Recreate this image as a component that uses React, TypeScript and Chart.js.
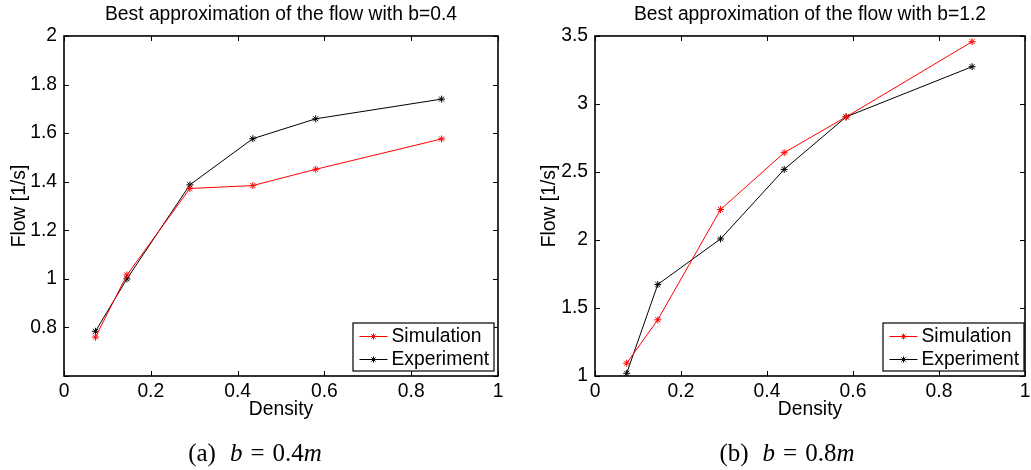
import React, { useEffect, useRef } from 'react';
import { Chart, registerables } from 'chart.js';

Chart.register(...registerables);

// ---- Data ----
const densityA = [0.0725, 0.145, 0.29, 0.435, 0.58, 0.87];
const simulationA = [0.76, 1.016, 1.372, 1.384, 1.451, 1.576];
const experimentA = [0.784, 1.0, 1.387, 1.577, 1.659, 1.74];

const densityB = [0.0737, 0.146, 0.292, 0.44, 0.584, 0.877];
const simulationB = [1.094, 1.413, 2.224, 2.642, 2.905, 3.458];
const experimentB = [1.02, 1.673, 2.008, 2.519, 2.905, 3.274];

const seriesNames = ['Simulation', 'Experiment'];
const xTicks = [0, 0.2, 0.4, 0.6, 0.8, 1];
const yTicksA = [0.6, 0.8, 1, 1.2, 1.4, 1.6, 1.8, 2];
const yTicksB = [1, 1.5, 2, 2.5, 3, 3.5];

const titleA = 'Best approximation of the flow with b=0.4';
const titleB = 'Best approximation of the flow with b=1.2';
const xLabel = 'Density';
const yLabel = 'Flow [1/s]';

const FONT = "'Liberation Sans', Arial, Helvetica, sans-serif";
const FS = 19.3;

const matlabPlugin = {
  id: 'matlabFrame',
  afterDatasetsDraw(chart: any) {
    const { ctx, chartArea: a, scales } = chart;
    const x = scales.x;
    const y = scales.y;
    ctx.save();
    ctx.strokeStyle = '#000';
    ctx.lineWidth = 1;
    const tl = 5;
    x.ticks.forEach((t: any) => {
      const px = Math.round(x.getPixelForValue(t.value)) + 0.5;
      ctx.beginPath();
      ctx.moveTo(px, a.bottom);
      ctx.lineTo(px, a.bottom - tl);
      ctx.moveTo(px, a.top);
      ctx.lineTo(px, a.top + tl);
      ctx.stroke();
    });
    y.ticks.forEach((t: any) => {
      const py = Math.round(y.getPixelForValue(t.value)) + 0.5;
      ctx.beginPath();
      ctx.moveTo(a.left, py);
      ctx.lineTo(a.left + tl, py);
      ctx.moveTo(a.right, py);
      ctx.lineTo(a.right - tl, py);
      ctx.stroke();
    });
    ctx.lineWidth = 1.6;
    ctx.strokeRect(a.left, a.top, a.right - a.left, a.bottom - a.top);
    ctx.restore();
  },
  afterDraw(chart: any, _args: any, opts: any) {
    const { ctx, chartArea: a } = chart;
    const w = 141;
    const h = 48;
    const x0 = a.right - (opts.rightGap ?? 4) - w;
    const y0 = a.bottom - (opts.bottomGap ?? 5) - h;
    ctx.save();
    ctx.fillStyle = '#fff';
    ctx.fillRect(x0, y0, w, h);
    ctx.strokeStyle = '#000';
    ctx.lineWidth = 1.2;
    ctx.strokeRect(x0, y0, w, h);
    const rows = [13.5, 36];
    chart.data.datasets.forEach((ds: any, i: number) => {
      const cy = Math.round(y0 + rows[i]) + 0.5;
      ctx.strokeStyle = ds.borderColor;
      ctx.lineWidth = 1;
      ctx.beginPath();
      ctx.moveTo(x0 + 6.5, cy);
      ctx.lineTo(x0 + 34.5, cy);
      ctx.stroke();
      const cx = x0 + 20.5;
      const r = 3;
      ctx.beginPath();
      for (let k = 0; k < 4; k++) {
        const ang = (k * Math.PI) / 4;
        ctx.moveTo(cx - r * Math.cos(ang), cy - r * Math.sin(ang));
        ctx.lineTo(cx + r * Math.cos(ang), cy + r * Math.sin(ang));
      }
      ctx.stroke();
      ctx.fillStyle = '#000';
      ctx.font = `${FS}px ${FONT}`;
      ctx.textBaseline = 'middle';
      ctx.textAlign = 'left';
      ctx.fillText(ds.label, x0 + 38.5, cy + 0.5);
    });
    ctx.restore();
  },
};

type PanelProps = {
  left: number;
  width: number;
  yAxisWidth: number;
  rightPad: number;
  title: string;
  density: number[];
  sim: number[];
  exp: number[];
  yTicks: number[];
  hideFirstY: boolean;
  yTitlePad: number;
  legendRightGap: number;
};

const CANVAS_H = 440;
const PLOT_BOTTOM = 376;

function Panel(p: PanelProps) {
  const ref = useRef<HTMLCanvasElement | null>(null);
  useEffect(() => {
    if (!ref.current) return;
    const yMin = p.yTicks[0];
    const yMax = p.yTicks[p.yTicks.length - 1];
    const yStep = p.yTicks[1] - p.yTicks[0];
    const chart = new Chart(ref.current, {
      type: 'line',
      data: {
        datasets: [
          {
            label: seriesNames[0],
            data: p.density.map((d, i) => ({ x: d, y: p.sim[i] })),
            borderColor: '#ff0000',
            backgroundColor: '#ff0000',
            borderWidth: 1,
            pointStyle: 'star',
            pointRadius: 3.5,
            pointBorderWidth: 1,
            pointBorderColor: '#ff0000',
            tension: 0,
          },
          {
            label: seriesNames[1],
            data: p.density.map((d, i) => ({ x: d, y: p.exp[i] })),
            borderColor: '#000000',
            backgroundColor: '#000000',
            borderWidth: 1,
            pointStyle: 'star',
            pointRadius: 3.5,
            pointBorderWidth: 1,
            pointBorderColor: '#000000',
            tension: 0,
          },
        ],
      },
      options: {
        animation: false,
        responsive: false,
        maintainAspectRatio: false,
        layout: { padding: { left: 0, right: p.rightPad, top: 0, bottom: 0 } },
        plugins: {
          legend: { display: false },
          tooltip: { enabled: false },
          title: {
            display: true,
            text: p.title,
            fullSize: false,
            color: '#000',
            font: { family: FONT, size: FS, weight: 'normal' },
            padding: { top: 3, bottom: 9.8 },
          },
          matlabFrame: { rightGap: p.legendRightGap, bottomGap: 5 },
        } as any,
        scales: {
          x: {
            type: 'linear',
            min: xTicks[0],
            max: xTicks[xTicks.length - 1],
            grid: { display: false, drawTicks: false },
            border: { display: false },
            ticks: {
              stepSize: xTicks[1] - xTicks[0],
              color: '#000',
              padding: 4,
              font: { family: FONT, size: FS },
              maxRotation: 0,
              autoSkip: false,
              callback: (v: any) => String(+Number(v).toFixed(1)),
            },
            title: {
              display: true,
              text: xLabel,
              color: '#000',
              font: { family: FONT, size: FS },
              padding: { top: 0, bottom: 18.4 },
            },
            afterFit: (s: any) => {
              s.height = CANVAS_H - PLOT_BOTTOM;
              s.paddingLeft = 0;
              s.paddingRight = 0;
            },
          },
          y: {
            type: 'linear',
            min: yMin,
            max: yMax,
            grid: { display: false, drawTicks: false },
            border: { display: false },
            ticks: {
              stepSize: yStep,
              color: '#000',
              padding: 7,
              font: { family: FONT, size: FS },
              autoSkip: false,
              callback: (v: any) => {
                const n = Number(v);
                if (p.hideFirstY && Math.abs(n - yMin) < 1e-9) return '';
                return String(+n.toFixed(1));
              },
            },
            title: {
              display: true,
              text: yLabel,
              color: '#000',
              font: { family: FONT, size: FS },
              padding: { top: p.yTitlePad, bottom: 0 },
            },
            afterFit: (s: any) => {
              s.width = p.yAxisWidth;
              s.paddingTop = 0;
              s.paddingBottom = 0;
            },
          },
        },
      },
      plugins: [matlabPlugin as any],
    });
    return () => chart.destroy();
  }, []);
  return (
    <canvas
      ref={ref}
      width={p.width}
      height={CANVAS_H}
      style={{ position: 'absolute', left: p.left, top: 0, width: p.width, height: CANVAS_H }}
    />
  );
}

const capStyle: React.CSSProperties = {
  position: 'absolute',
  top: 440,
  width: 300,
  textAlign: 'center',
  fontFamily: "'Liberation Serif', 'DejaVu Serif', serif",
  fontSize: 25,
  lineHeight: '25px',
  color: '#000',
  whiteSpace: 'nowrap',
};

function Caption({ center, tag, value }: { center: number; tag: string; value: string }) {
  return (
    <div style={{ ...capStyle, left: center - 150 }}>
      <span>({tag})</span>
      <span style={{ fontStyle: 'italic', marginLeft: 14 }}>b</span>
      <span style={{ margin: '0 8px' }}>=</span>
      <span>{value}</span>
      <span style={{ fontStyle: 'italic' }}>m</span>
    </div>
  );
}

export default function App() {
  return (
    <div
      style={{
        position: 'absolute',
        left: 0,
        top: 0,
        width: 1031,
        height: 470,
        background: '#fff',
        overflow: 'hidden',
      }}
    >
      <Panel
        left={0}
        width={515}
        yAxisWidth={64}
        rightPad={17}
        title={titleA}
        density={densityA}
        sim={simulationA}
        exp={experimentA}
        yTicks={yTicksA}
        hideFirstY={true}
        yTitlePad={8}
        legendRightGap={4}
      />
      <Panel
        left={515}
        width={516}
        yAxisWidth={80}
        rightPad={6}
        title={titleB}
        density={densityB}
        sim={simulationB}
        exp={experimentB}
        yTicks={yTicksB}
        hideFirstY={false}
        yTitlePad={23}
        legendRightGap={1}
      />
      <Caption center={255} tag="a" value="0.4" />
      <Caption center={787} tag="b" value="0.8" />
    </div>
  );
}
